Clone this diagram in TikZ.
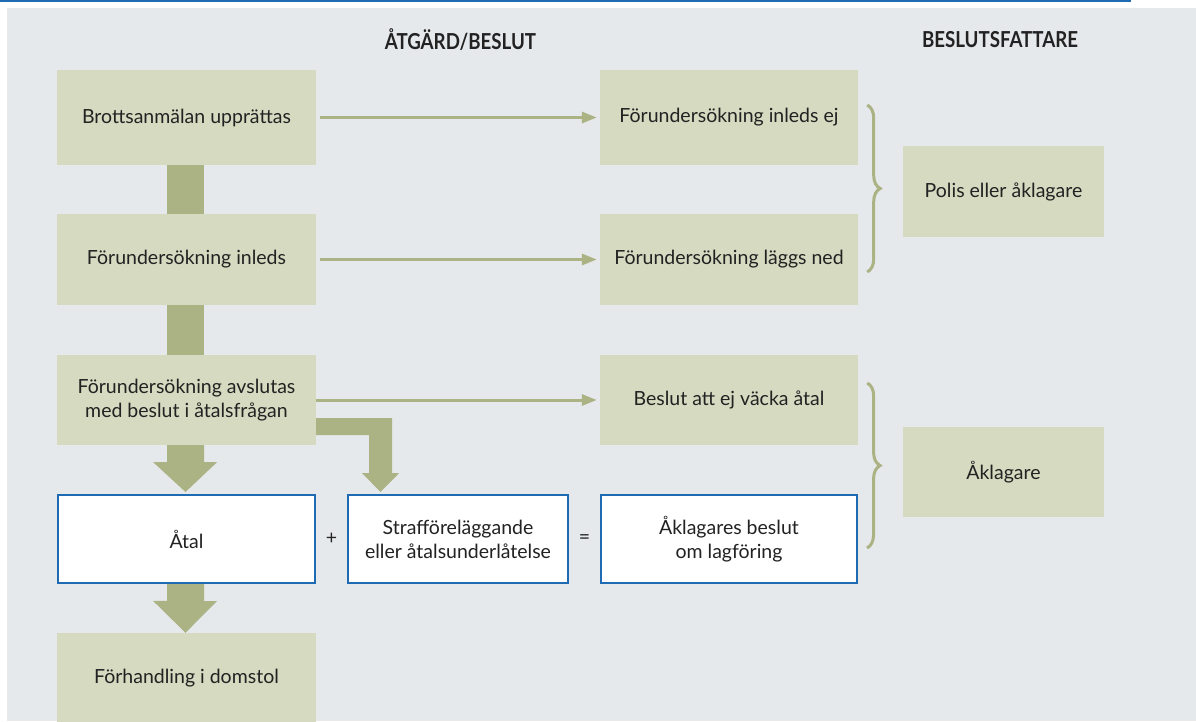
\documentclass[tikz,border=0pt]{standalone}
\usepackage{fontspec}
\setmainfont{Lato}
\newfontfamily\hdrfont[FakeStretch=0.85]{Lato}
\usetikzlibrary{arrows.meta,decorations.pathreplacing,calc}
\definecolor{bg}{HTML}{E6E9EC}
\definecolor{boxfill}{HTML}{D6DAC0}
\definecolor{olive}{HTML}{ABB283}
\definecolor{blueline}{HTML}{1F6BB3}
\definecolor{txt}{HTML}{222222}
\begin{document}
\begin{tikzpicture}[x=1pt,y=-1pt,
 box/.style={fill=boxfill, minimum width=259pt, minimum height=91pt, inner sep=0pt, align=center, text=txt, font=\fontsize{19.5}{24}\selectfont},
 wbox/.style={box, fill=white, draw=blueline, line width=2pt, minimum width=257pt, minimum height=88pt},
 bigarrow/.style={fill=olive},
 thinarrow/.style={draw=olive, line width=3pt, -{Triangle[length=15pt,width=11pt]}},
 bracestyle/.style={draw=olive, line width=3pt, decorate, decoration={brace, amplitude=13pt}},
 hdr/.style={font=\hdrfont\bfseries\fontsize{22}{24}\selectfont, text=txt},
 sym/.style={text=txt, font=\fontsize{19.5}{24}\selectfont}]
\useasboundingbox (0,0) rectangle (1196,721);
\fill[white] (0,0) rectangle (1196,721);
\fill[bg] (7,8) rectangle (1196,721);
\draw[blueline, line width=2pt] (0,1) -- (1131,1);

\node[hdr] (h1) at (460.5,40) {ÅTGÄRD/BESLUT};
\node[hdr] (h2) at (1000,40) {BESLUTSFATTARE};

\node[box, minimum height=95pt] (b1) at (186.5,117.5) {Brottsanmälan upprättas};
\node[box] (b2) at (186.5,259.5) {Förundersökning inleds};
\node[box, minimum height=90pt] (b3) at (186.5,400) {Förundersökning avslutas\\med beslut i åtalsfrågan};
\node[wbox] (atal) at (186.5,539) {Åtal};
\node[box, minimum height=90pt] (b5) at (186.5,678) {Förhandling i domstol};
\node[wbox, minimum width=220pt] (m) at (458,539) {Strafföreläggande\\eller åtalsunderlåtelse};
\node[box, minimum width=258pt, minimum height=95pt] (r1) at (729,117.5) {Förundersökning inleds ej};
\node[box, minimum width=258pt] (r2) at (729,259.5) {Förundersökning läggs ned};
\node[box, minimum width=258pt, minimum height=90pt] (r3) at (729,400) {Beslut att ej väcka åtal};
\node[wbox, minimum width=256pt] (r4) at (729,539) {Åklagares beslut\\om lagföring};
\node[box, minimum width=201pt] (p1) at (1003.5,191.5) {Polis eller åklagare};
\node[box, minimum width=201pt, minimum height=90pt] (p2) at (1003.5,472) {Åklagare};

\fill[bigarrow] ([xshift=-19.5pt]b1.south) rectangle ([xshift=17.5pt]b2.north);
\fill[bigarrow] ([xshift=-19.5pt]b2.south) rectangle ([xshift=17.5pt]b3.north);
\fill[bigarrow] ([xshift=-19.5pt]b3.south) -- ++(37,0) -- ++(0,17) -- ++(13,0) -- ([xshift=-1pt,yshift=2pt]atal.north) -- ++(-32.5,-30) -- ++(14,0) -- cycle;
\fill[bigarrow] ([xshift=-19.5pt]atal.south) -- ++(37,0) -- ++(0,17) -- ++(13,0) -- ([xshift=-1pt]b5.north) -- ++(-32.5,-32) -- ++(14,0) -- cycle;
\fill[bigarrow] ([yshift=-18pt]b3.east) -- ++(76,0) -- ++(0,55) -- ++(7,0) -- ([xshift=-77.5pt,yshift=2pt]m.north) -- ++(-18.5,-19) -- ++(7,0) -- ++(0,-38) -- ++(-53,0) -- cycle;

\draw[thinarrow, shorten <=4pt, shorten >=3pt] (b1) -- (r1);
\draw[thinarrow, shorten <=4pt, shorten >=3pt] (b2) -- (r2);
\draw[thinarrow, shorten >=3pt] (b3) -- (r3);

\coordinate (ba) at ($(r1.east)+(9,-12.5)$);
\coordinate (bb) at ($(r2.east)+(9,12.5)$);
\coordinate (bc) at ($(r3.east)+(9,-17)$);
\coordinate (bd) at ($(r4.east)+(9,9)$);
\draw[bracestyle] (ba) -- (bb);
\draw[bracestyle] (bc) -- (bd);

\node[sym] (plus) at ($(atal.east)!0.5!(m.west)$) {+};
\node[sym] (eq) at ($(m.east)!0.5!(r4.west)$) {=};
\end{tikzpicture}
\end{document}
